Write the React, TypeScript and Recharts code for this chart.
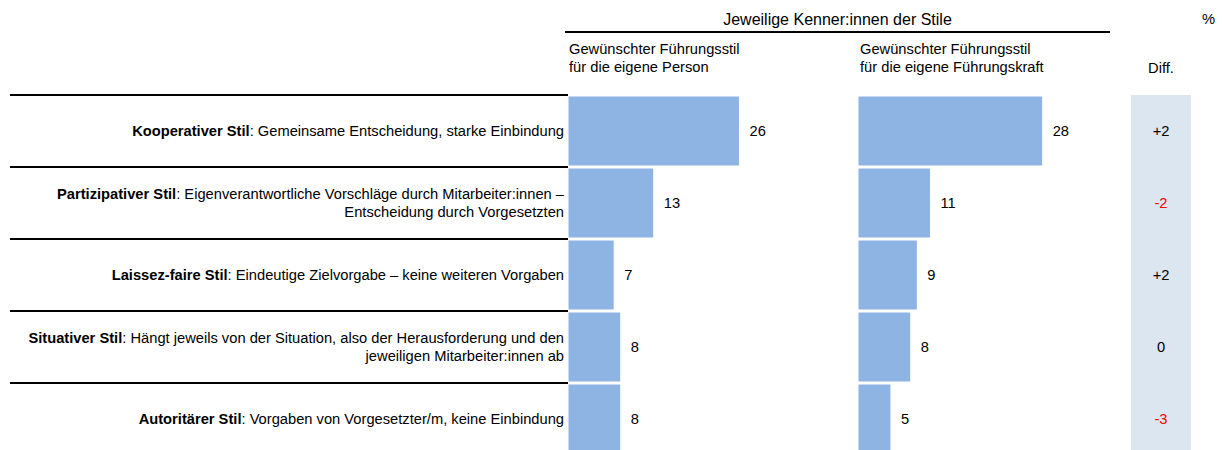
import { BarChart, Bar, XAxis, YAxis, LabelList } from 'recharts';

// Führungsstile (bold name + description lines)
const styleNames = ['Kooperativer Stil', 'Partizipativer Stil', 'Laissez-faire Stil', 'Situativer Stil', 'Autoritärer Stil'];
const styleDescriptions = [
  ['Gemeinsame Entscheidung, starke Einbindung'],
  ['Eigenverantwortliche Vorschläge durch Mitarbeiter:innen –', 'Entscheidung durch Vorgesetzten'],
  ['Eindeutige Zielvorgabe – keine weiteren Vorgaben'],
  ['Hängt jeweils von der Situation, also der Herausforderung und den', 'jeweiligen Mitarbeiter:innen ab'],
  ['Vorgaben von Vorgesetzter/m, keine Einbindung'],
];
// % values
const eigenePerson = [26, 13, 7, 8, 8];
const eigeneFuehrungskraft = [28, 11, 9, 8, 5];
const diffLabels = ['+2', '-2', '+2', '0', '-3'];

const data = styleNames.map((name, i) => ({
  name,
  person: eigenePerson[i],
  kraft: eigeneFuehrungskraft[i],
}));

const FONT = '"Liberation Sans", Arial, sans-serif';
const FS = 14.7;
const BAR_COLOR = '#8EB4E3';
const ROW_H = 72;
const SCALE_MAX = 42;

const StyleTick = ({ x, y, payload, index }: any) => {
  const i = index ?? styleNames.indexOf(payload?.value);
  const lines = styleDescriptions[i] || [];
  const top = y - ROW_H / 2;
  const lh = 18;
  return (
    <g>
      <line x1={10} x2={568} y1={top} y2={top} stroke="#000" strokeWidth={2} />
      {lines.map((ln, k) => (
        <text
          key={k}
          x={x}
          y={y + (k - (lines.length - 1) / 2) * lh}
          dy="0.35em"
          textAnchor="end"
          fontSize={FS}
          fontFamily={FONT}
          fill="#000"
        >
          {k === 0 && <tspan fontWeight="bold">{styleNames[i]}</tspan>}
          {k === 0 ? ': ' + ln : ln}
        </text>
      ))}
    </g>
  );
};

const DiffTick = ({ x, y, index }: any) => {
  const d = diffLabels[index] ?? '';
  return (
    <g>
      <rect x={x - 4} y={y - ROW_H / 2} width={60} height={ROW_H} fill="#DCE6F1" />
      <text
        x={x + 26}
        y={y}
        dy="0.35em"
        textAnchor="middle"
        fontSize={FS}
        fontFamily={FONT}
        fill={d.startsWith('-') ? '#FF0000' : '#000'}
      >
        {d}
      </text>
    </g>
  );
};

const headText: any = { position: 'absolute', fontFamily: FONT, color: '#000', whiteSpace: 'nowrap' };

export default function App() {
  return (
    <div style={{ position: 'absolute', left: 0, top: 0, width: 1224, height: 450, overflow: 'hidden', background: '#fff' }}>
      <div style={{ ...headText, left: 565, width: 545, top: 11, fontSize: 16, lineHeight: 'normal', textAlign: 'center' }}>
        Jeweilige Kenner:innen der Stile
      </div>
      <div style={{ position: 'absolute', left: 565, width: 545, top: 31, height: 2, background: '#000' }} />
      <div style={{ ...headText, left: 1202, top: 11, fontSize: FS, lineHeight: 'normal' }}>%</div>
      <div style={{ ...headText, left: 569, top: 40, fontSize: FS, lineHeight: '18px' }}>
        Gewünschter Führungsstil<br />für die eigene Person
      </div>
      <div style={{ ...headText, left: 860, top: 40, fontSize: FS, lineHeight: '18px' }}>
        Gewünschter Führungsstil<br />für die eigene Führungskraft
      </div>
      <div style={{ ...headText, left: 1131, width: 60, top: 59, fontSize: FS, lineHeight: '18px', textAlign: 'center' }}>
        Diff.
      </div>

      <div style={{ position: 'absolute', left: 0, top: 0 }}>
        <BarChart
          width={850}
          height={456}
          data={data}
          layout="vertical"
          margin={{ top: 95, right: 5, bottom: 1, left: 0 }}
          barCategoryGap={1}
        >
          <XAxis type="number" hide domain={[0, SCALE_MAX]} />
          <YAxis
            type="category"
            dataKey="name"
            width={568}
            axisLine={false}
            tickLine={false}
            tickSize={0}
            tickMargin={4}
            tick={<StyleTick />}
            interval={0}
          />
          <Bar dataKey="person" fill={BAR_COLOR} stroke="#fff" strokeWidth={1} isAnimationActive={false}>
            <LabelList dataKey="person" position="right" offset={10} fontSize={FS} fontFamily={FONT} fill="#000" />
          </Bar>
        </BarChart>
      </div>

      <div style={{ position: 'absolute', left: 850, top: 0 }}>
        <BarChart
          width={374}
          height={456}
          data={data}
          layout="vertical"
          margin={{ top: 95, right: 0, bottom: 1, left: 8 }}
          barCategoryGap={1}
        >
          <XAxis type="number" hide domain={[0, SCALE_MAX]} />
          <YAxis type="category" dataKey="name" hide />
          <YAxis
            yAxisId="diff"
            orientation="right"
            type="category"
            dataKey="name"
            width={89}
            axisLine={false}
            tickLine={false}
            tickSize={0}
            tickMargin={0}
            tick={<DiffTick />}
            interval={0}
          />
          <Bar dataKey="kraft" fill={BAR_COLOR} stroke="#fff" strokeWidth={1} isAnimationActive={false}>
            <LabelList dataKey="kraft" position="right" offset={10} fontSize={FS} fontFamily={FONT} fill="#000" />
          </Bar>
        </BarChart>
      </div>
    </div>
  );
}
